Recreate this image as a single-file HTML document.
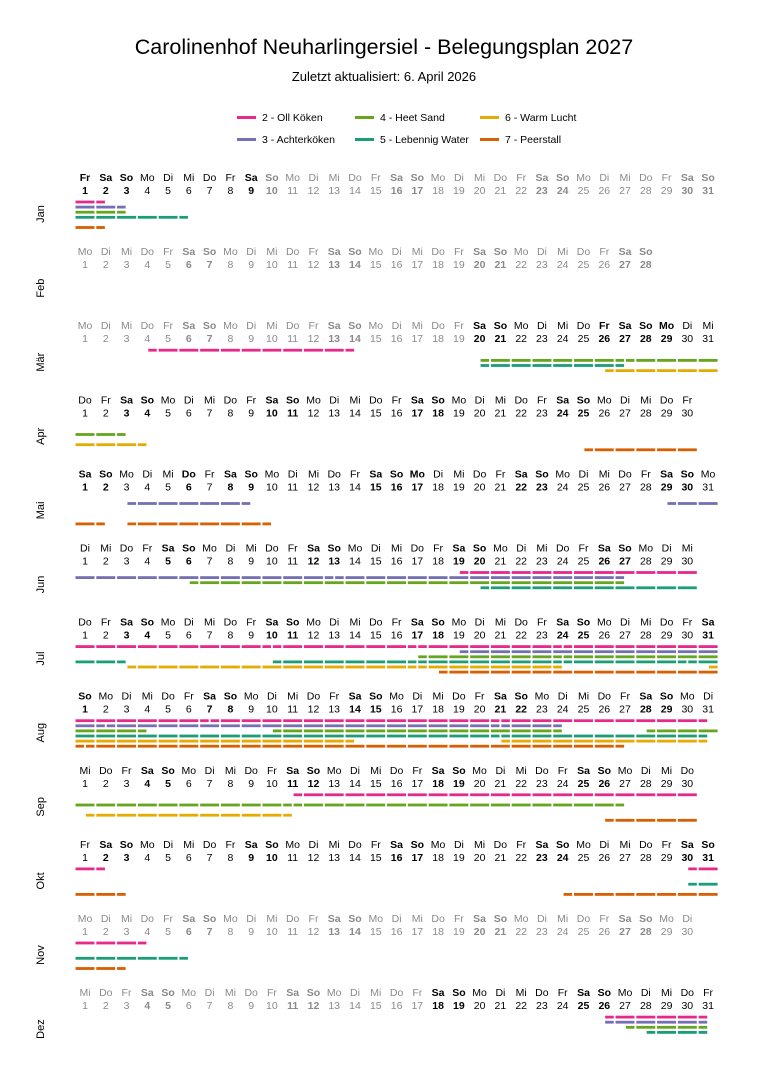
<!DOCTYPE html>
<html><head><meta charset="utf-8">
<style>
html,body{margin:0;padding:0;background:#fff;}
svg{display:block;font-family:"Liberation Sans",sans-serif;}
</style></head>
<body>
<div id="c"></div>
<script>
(function(){
var W=20.77, X0=85;
function cx(d){return X0+(d-1)*W;}
var cols=["#e7298a","#7570b3","#66a61e","#1b9e77","#e6ab02","#d95f02"];
var names=["Jan","Feb","Mär","Apr","Mai","Jun","Jul","Aug","Sep","Okt","Nov","Dez"];
var wd=["So","Mo","Di","Mi","Do","Fr","Sa"];
var hol={"0-1":1,"2-26":1,"2-29":1,"4-1":1,"4-6":1,"4-17":1,"9-3":1,"11-25":1,"11-26":1};
var black=[[1,9],[0,0],[20,31],[1,31],[1,31],[1,31],[1,31],[1,31],[1,31],[1,31],[0,0],[18,31]];
var mdays=[31,28,31,30,31,30,31,31,30,31,30,31];
var first=[5,1,1,4,6,2,4,0,3,5,1,3];
var E=99;
var B=[
{0:[[.5,2]],1:[[.5,3]],2:[[.5,3]],3:[[.5,6]],5:[[.5,2]]},
{},
{0:[[4,14]],2:[[20,27],[27,E]],3:[[20,27]],4:[[26,E]]},
{2:[[.5,3]],4:[[.5,4]],5:[[25,E]]},
{1:[[3,9],[29,E]],5:[[.5,2],[3,10]]},
{0:[[19,E]],1:[[.5,13],[13,27]],2:[[6,27]],3:[[20,E]]},
{0:[[.5,10],[10,17],[17,24],[24,E]],1:[[19,E]],2:[[17,24],[24,E]],3:[[.5,3],[10,17],[17,24],[24,30],[30,E]],4:[[3,17],[17,24],[31,E]],5:[[18,E]]},
{0:[[.5,7],[7,21],[21,31]],1:[[.5,2],[2,21],[21,24]],2:[[.5,4],[10,24],[28,E]],3:[[.5,21],[21,31]],4:[[.5,14],[21,31]],5:[[.5,1],[1,27]]},
{0:[[11,E]],2:[[.5,11],[11,27]],4:[[1,11]],5:[[26,E]]},
{0:[[.5,2],[30,E]],3:[[30,E]],5:[[.5,3],[24,E]]},
{0:[[.5,4]],3:[[.5,6]],5:[[.5,3]]},
{0:[[26,31]],1:[[26,31]],2:[[27,31]],3:[[28,31]]}
];
var h='<svg width="768" height="1086" viewBox="0 0 768 1086" xmlns="http://www.w3.org/2000/svg">';
h+='<text x="384" y="54" text-anchor="middle" font-size="21.5" fill="#000">Carolinenhof Neuharlingersiel - Belegungsplan 2027</text>';
h+='<text x="384" y="81" text-anchor="middle" font-size="13" fill="#000">Zuletzt aktualisiert:  6. April 2026</text>';
h+='<g font-size="10.5" fill="#000">';
var leg=[[237,116,0,"2 - Oll Köken"],[355,116,2,"4 - Heet Sand"],[480,116,4,"6 - Warm Lucht"],[237,138,1,"3 - Achterköken"],[355,138,3,"5 - Lebennig Water"],[480,138,5,"7 - Peerstall"]];
for(var i=0;i<leg.length;i++){
  h+='<rect x="'+leg[i][0]+'" y="'+leg[i][1]+'" width="19" height="3" fill="'+cols[leg[i][2]]+'"/>';
  h+='<text x="'+(leg[i][0]+25)+'" y="'+(leg[i][1]+5)+'">'+leg[i][3]+'</text>';
}
h+='</g>';
for(var m=0;m<12;m++){
  var top=177+m*74.1;
  var days=mdays[m];
  h+='<text transform="translate(44,'+(top+37).toFixed(1)+') rotate(-90)" text-anchor="middle" font-size="11">'+names[m]+'</text>';
  for(var d=1;d<=days;d++){
    var dow=(first[m]+d-1)%7;
    var bold=(dow==0||dow==6||hol[m+"-"+d]);
    var blk=(d>=black[m][0]&&d<=black[m][1]);
    var st='text-anchor="middle" font-size="10.5" fill="'+(blk?'#000':'#8a8a8a')+'"'+(bold?' font-weight="bold"':'');
    h+='<text x="'+cx(d).toFixed(1)+'" y="'+(top+4).toFixed(1)+'" '+st+'>'+wd[dow]+'</text>';
    h+='<text x="'+cx(d).toFixed(1)+'" y="'+(top+17).toFixed(1)+'" '+st+'>'+d+'</text>';
  }
  var bm=B[m];
  for(var l=0;l<6;l++){
    if(!bm[l]) continue;
    var y=top+25+5.1*l-1.4;
    for(var j=0;j<bm[l].length;j++){
      var a=bm[l][j][0], b=Math.min(bm[l][j][1],days+0.5);
      for(var k=1;k<=days;k++){
        var s=Math.max(a,k-0.5), e=Math.min(b,k+0.5);
        if(e-s<=0.01) continue;
        var x1=cx(s)+0.9, x2=cx(e)-0.9;
        if(x2>x1) h+='<rect x="'+x1.toFixed(2)+'" y="'+y.toFixed(2)+'" width="'+(x2-x1).toFixed(2)+'" height="2.8" fill="'+cols[l]+'"/>';
      }
    }
  }
}
h+='</svg>';
document.getElementById("c").innerHTML=h;
})();
</script>
</body></html>
